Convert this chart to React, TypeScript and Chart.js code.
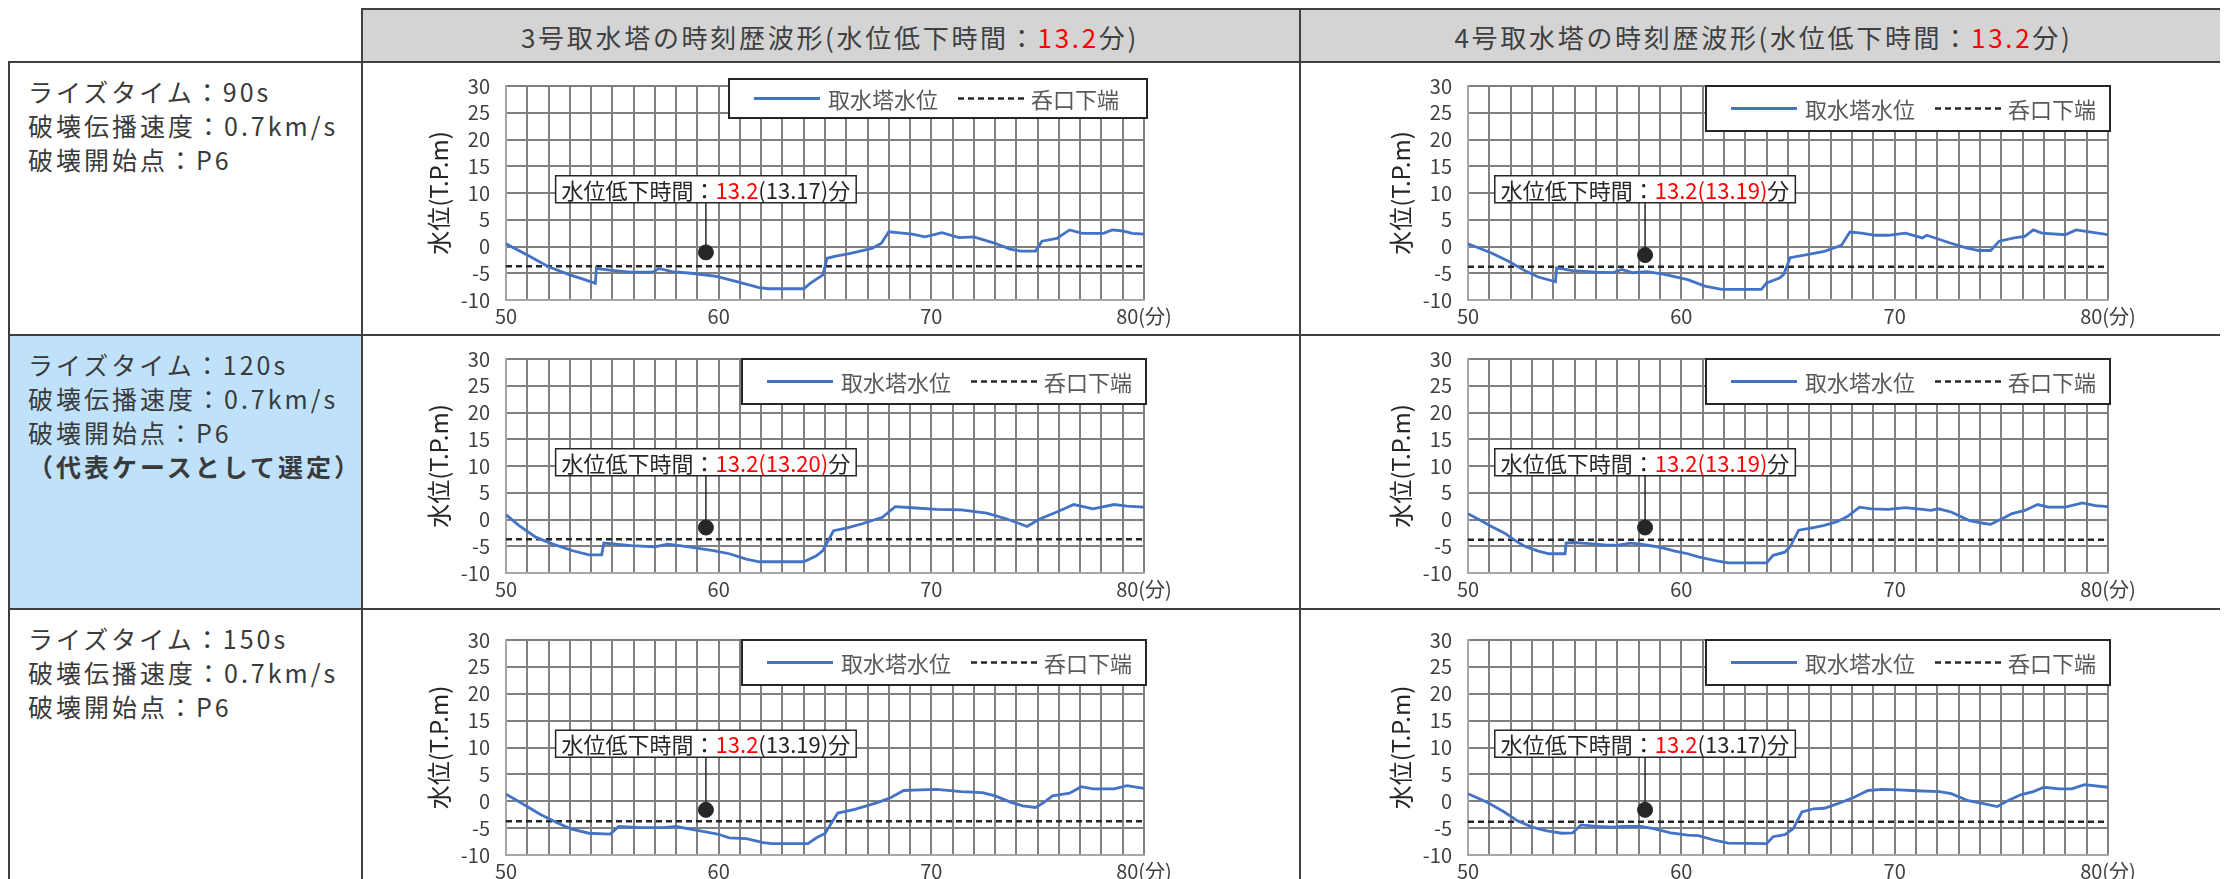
import React, { useEffect, useRef } from 'react';
import { Chart, registerables } from 'chart.js';

Chart.register(...registerables);

const FONT = '"Noto Sans CJK JP", "Noto Sans", sans-serif';
Chart.defaults.font.family = FONT;

// ---- axes ----
const xMin = 50;
const xMax = 80;
const yMin = -10;
const yMax = 30;
const xLabelValues = [50, 60, 70, 80];
const xUnitLabel = '(分)';
const yTitle = '水位(T.P.m)';
const seriesName = '取水塔水位';
const intakeName = '呑口下端';

// ---- data: tower 3 / rise time 90s ----
const t3r90Min = [50, 51.0, 52.0, 53.0, 53.7, 54.2, 54.25, 54.4, 55.1, 55.85, 56.9, 57.2, 57.8, 58.7, 59.9, 60.9, 61.9, 62.35, 64.0, 64.3, 64.9, 65.1, 65.4, 66.2, 67.2, 67.65, 68.0, 68.4, 69.1, 69.7, 70.5, 71.3, 72.0, 73.0, 73.7, 74.2, 74.9, 75.2, 75.9, 76.5, 77.1, 78.1, 78.5, 79.0, 79.45, 80];
const t3r90Lvl = [0.5, -1.6, -3.8, -5.3, -6.2, -6.9, -4.0, -4.2, -4.5, -4.8, -4.8, -4.1, -4.7, -5.0, -5.6, -6.6, -7.7, -7.9, -7.9, -6.9, -5.3, -2.2, -1.9, -1.3, -0.35, 0.6, 2.75, 2.6, 2.3, 1.8, 2.6, 1.65, 1.8, 0.6, -0.5, -0.85, -0.85, 1.0, 1.5, 3.1, 2.45, 2.45, 3.1, 2.9, 2.45, 2.3];

// ---- data: tower 4 / rise time 90s ----
const t4r90Min = [50, 51.1, 51.9, 52.7, 53.3, 54.1, 54.15, 54.9, 56.0, 56.8, 57.2, 57.7, 58.4, 59.2, 60.3, 61.1, 61.9, 63.75, 64.0, 64.6, 64.8, 65.1, 65.9, 66.7, 67.5, 67.9, 68.45, 69.1, 69.7, 70.5, 71.3, 71.5, 72.6, 73.4, 73.95, 74.5, 74.9, 75.6, 76.1, 76.5, 76.9, 78.0, 78.5, 79.2, 80];
const t4r90Lvl = [0.5, -1.2, -2.75, -4.6, -5.7, -6.6, -4.0, -4.5, -4.8, -4.9, -4.3, -4.9, -4.7, -5.2, -6.2, -7.4, -8.0, -8.0, -6.8, -5.9, -5.2, -2.1, -1.5, -0.9, 0.2, 2.7, 2.5, 2.1, 2.1, 2.5, 1.6, 2.1, 0.65, -0.3, -0.75, -0.75, 1.0, 1.6, 1.9, 3.1, 2.5, 2.2, 3.1, 2.7, 2.2];

// ---- data: tower 3 / rise time 120s ----
const t3r120Min = [50, 50.6, 51.4, 52.2, 53.1, 53.9, 54.5, 54.6, 55.9, 57.0, 57.6, 58.6, 59.75, 60.5, 61.3, 61.9, 64.0, 64.6, 64.9, 65.4, 66.0, 66.75, 67.7, 68.3, 69.1, 70.25, 71.4, 72.6, 73.55, 74.1, 74.5, 75.1, 75.9, 76.7, 77.6, 78.6, 79.2, 80];
const t3r120Lvl = [0.9, -1.1, -3.3, -4.6, -5.8, -6.6, -6.6, -4.4, -4.9, -5.1, -4.6, -5.1, -5.8, -6.4, -7.4, -7.9, -7.9, -6.8, -5.8, -2.1, -1.6, -0.8, 0.4, 2.4, 2.2, 1.9, 1.8, 1.2, 0.1, -0.7, -1.3, 0.1, 1.4, 2.8, 2.0, 2.8, 2.5, 2.3];

// ---- data: tower 4 / rise time 120s ----
const t4r120Min = [50, 50.6, 51.1, 51.7, 52.2, 52.7, 53.3, 53.8, 54.55, 54.6, 54.9, 55.7, 56.5, 57.05, 57.6, 58.1, 58.7, 59.2, 59.7, 60.3, 60.8, 61.6, 62.2, 64.0, 64.3, 64.85, 65.1, 65.5, 66.2, 66.7, 67.3, 67.8, 68.35, 68.9, 69.7, 70.5, 71.3, 71.7, 72.05, 72.65, 73.5, 74.15, 74.5, 75.1, 75.5, 76.1, 76.7, 77.2, 78.0, 78.8, 79.4, 80];
const t4r120Lvl = [1.1, -0.2, -1.3, -2.5, -3.9, -5.1, -5.9, -6.4, -6.4, -4.4, -4.3, -4.5, -4.8, -4.8, -4.4, -4.6, -5.0, -5.4, -5.9, -6.4, -7.0, -7.7, -8.1, -8.1, -6.7, -6.1, -5.1, -2.0, -1.5, -1.1, -0.4, 0.6, 2.3, 2.0, 1.9, 2.2, 1.9, 1.7, 2.0, 1.4, -0.2, -0.7, -0.9, 0.3, 1.1, 1.7, 2.8, 2.3, 2.3, 3.1, 2.6, 2.4];

// ---- data: tower 3 / rise time 150s ----
const t3r150Min = [50, 50.8, 51.6, 52.4, 53.1, 53.9, 54.9, 55.3, 56.3, 57.4, 58.0, 59.0, 59.95, 60.5, 61.3, 62.1, 62.5, 64.2, 64.6, 65.0, 65.6, 66.4, 67.5, 68.1, 68.7, 69.5, 70.25, 71.4, 72.4, 73.0, 73.75, 74.3, 74.9, 75.3, 75.7, 76.5, 77.05, 77.6, 78.6, 79.2, 80];
const t3r150Lvl = [1.3, -0.5, -2.4, -4.0, -5.2, -5.95, -6.1, -4.7, -4.9, -4.9, -4.7, -5.4, -6.1, -6.8, -6.95, -7.7, -7.9, -7.9, -6.8, -6.0, -2.2, -1.5, -0.2, 0.7, 2.0, 2.1, 2.2, 1.8, 1.6, 1.0, -0.2, -0.85, -1.15, -0.2, 1.0, 1.5, 2.7, 2.3, 2.3, 2.9, 2.4];

// ---- data: tower 4 / rise time 150s ----
const t4r150Min = [50, 50.9, 51.7, 52.3, 53.0, 53.7, 54.4, 54.9, 55.3, 56.0, 56.8, 57.3, 58.1, 58.7, 59.5, 60.3, 60.8, 61.6, 62.2, 64.0, 64.3, 64.85, 65.25, 65.65, 66.2, 66.7, 67.3, 68.1, 68.75, 69.4, 70.2, 71.0, 72.1, 72.65, 73.45, 74.0, 74.8, 75.3, 75.9, 76.5, 77.0, 77.7, 78.3, 78.9, 80];
const t4r150Lvl = [1.4, -0.2, -2.0, -3.6, -4.8, -5.5, -5.95, -5.9, -4.4, -4.7, -4.8, -4.7, -4.7, -5.1, -5.9, -6.3, -6.4, -7.3, -7.8, -7.9, -6.6, -6.2, -5.1, -2.0, -1.4, -1.3, -0.5, 0.75, 2.0, 2.2, 2.1, 1.95, 1.8, 1.4, 0.1, -0.3, -1.0, 0.1, 1.2, 1.8, 2.6, 2.3, 2.3, 3.1, 2.6];

// intake bottom level (呑口下端) per tower
const intakeBottomT3 = -3.7;
const intakeBottomT4 = -3.8;

// marker of drop-time annotation
const markerT3 = [59.4, 59.4, 59.4];
const markerT4 = [58.3, 58.3, 58.3];
const markerLvl = [-1.1, -1.6, -1.5, -1.5, -1.6, -1.6];
const labelLevel = 10.7;

// drop-time values
const dropRounded = ['13.2', '13.2', '13.2', '13.2', '13.2', '13.2'];
const dropExact = ['(13.17)', '(13.19)', '(13.20)', '(13.19)', '(13.19)', '(13.17)'];
const dropExactRed = [false, true, true, true, false, false];

// header & row texts
const headers = ['3号取水塔の時刻歴波形(水位低下時間：', '4号取水塔の時刻歴波形(水位低下時間：'];
const headerDrop = ['13.2', '13.2'];
const riseTimes = ['90s', '120s', '150s'];
const speed = '0.7km/s';
const startPoint = 'P6';

const BLUE = '#4472C4';
const DARK = '#262626';
const RED = '#FF0000';
const BORDER = '#404040';

type Cfg = {
  plot: { l: number; t: number; r: number; b: number };
  minutes: number[];
  levels: number[];
  intake: number;
  mx: number;
  my: number;
  rounded: string;
  exact: string;
  exactRed: boolean;
  legend: { dx: number; dy: number; w: number; h: number };
};

const AXIS_W = 90;
const PAD_TOP = 30;
const PAD_RIGHT = 45;
const XAXIS_H = 40;

function ChartPanel({ cfg }: { cfg: Cfg }) {
  const ref = useRef<HTMLCanvasElement | null>(null);
  const w = cfg.plot.r - cfg.plot.l + AXIS_W + PAD_RIGHT;
  const h = cfg.plot.b - cfg.plot.t + PAD_TOP + XAXIS_H;

  useEffect(() => {
    if (!ref.current) return;
    const overlay = {
      id: 'overlay',
      beforeDatasetsDraw(chart: any) {
        const { ctx, scales } = chart;
        const px = scales.x.getPixelForValue(cfg.mx);
        const py = scales.y.getPixelForValue(cfg.my);
        const cy = scales.y.getPixelForValue(labelLevel);
        ctx.save();
        ctx.strokeStyle = DARK;
        ctx.lineWidth = 1.5;
        ctx.beginPath();
        ctx.moveTo(px, cy + 13);
        ctx.lineTo(px, py);
        ctx.stroke();
        ctx.restore();
      },
      afterDatasetsDraw(chart: any) {
        const { ctx, scales, chartArea: a } = chart;
        const px = scales.x.getPixelForValue(cfg.mx);
        const cy = scales.y.getPixelForValue(labelLevel);
        ctx.save();
        // annotation box
        ctx.font = `22px ${FONT}`;
        ctx.textBaseline = 'middle';
        const parts = [
          { t: '水位低下時間：', c: DARK },
          { t: cfg.rounded, c: RED },
          { t: cfg.exact, c: cfg.exactRed ? RED : DARK },
          { t: '分', c: DARK },
        ];
        const tw = parts.reduce((s, p) => s + ctx.measureText(p.t).width, 0);
        const bw = tw + 12;
        const bh = 27;
        const bx = px - bw / 2;
        const by = cy - bh / 2;
        ctx.fillStyle = '#ffffff';
        ctx.fillRect(bx, by, bw, bh);
        ctx.strokeStyle = DARK;
        ctx.lineWidth = 1.5;
        ctx.strokeRect(bx, by, bw, bh);
        let tx = bx + 6;
        for (const p of parts) {
          ctx.fillStyle = p.c;
          ctx.fillText(p.t, tx, cy + 1);
          tx += ctx.measureText(p.t).width;
        }
        // legend box
        const L = cfg.legend;
        const lx = a.right + L.dx - L.w;
        const ly = a.top + L.dy;
        ctx.fillStyle = '#ffffff';
        ctx.fillRect(lx, ly, L.w, L.h);
        ctx.strokeStyle = DARK;
        ctx.lineWidth = 2;
        ctx.strokeRect(lx, ly, L.w, L.h);
        const my = ly + L.h / 2;
        ctx.font = `22px ${FONT}`;
        ctx.textBaseline = 'middle';
        let x0 = lx + 25;
        ctx.strokeStyle = BLUE;
        ctx.lineWidth = 2.8;
        ctx.beginPath();
        ctx.moveTo(x0, my);
        ctx.lineTo(x0 + 66, my);
        ctx.stroke();
        x0 += 74;
        ctx.fillStyle = '#595959';
        ctx.fillText(seriesName, x0, my + 1);
        x0 += ctx.measureText(seriesName).width + 20;
        ctx.strokeStyle = DARK;
        ctx.lineWidth = 2.5;
        ctx.setLineDash([6, 4]);
        ctx.beginPath();
        ctx.moveTo(x0, my);
        ctx.lineTo(x0 + 68, my);
        ctx.stroke();
        ctx.setLineDash([]);
        x0 += 73;
        ctx.fillText(intakeName, x0, my + 1);
        ctx.restore();
      },
    };

    const line = cfg.minutes.map((m, i) => ({ x: m, y: cfg.levels[i] }));
    const chart = new Chart(ref.current, {
      type: 'line',
      data: {
        datasets: [
          {
            label: intakeName,
            data: [
              { x: xMin, y: cfg.intake },
              { x: xMax, y: cfg.intake },
            ],
            borderColor: DARK,
            borderWidth: 2.5,
            borderDash: [6, 4],
            pointRadius: 0,
            order: 3,
          },
          {
            label: seriesName,
            data: line,
            borderColor: BLUE,
            borderWidth: 2.8,
            pointRadius: 0,
            tension: 0,
            order: 2,
          },
          {
            label: 'marker',
            data: [{ x: cfg.mx, y: cfg.my }],
            showLine: false,
            pointRadius: 7.5,
            pointBackgroundColor: DARK,
            pointBorderColor: DARK,
            order: 1,
          },
        ],
      },
      options: {
        animation: false,
        responsive: false,
        devicePixelRatio: 1,
        layout: { padding: { left: 0, top: PAD_TOP, right: PAD_RIGHT, bottom: 0 } },
        plugins: { legend: { display: false }, tooltip: { enabled: false } },
        scales: {
          x: {
            type: 'linear',
            min: xMin,
            max: xMax,
            afterFit: (s: any) => {
              s.height = XAXIS_H;
            },
            ticks: {
              stepSize: 1,
              maxTicksLimit: 100,
              autoSkip: false,
              maxRotation: 0,
              padding: 4,
              color: '#404040',
              font: { size: 20 },
              callback: (v: any) => {
                const n = Math.round(Number(v));
                if (!xLabelValues.includes(n)) return '';
                return n === xMax ? `${n}${xUnitLabel}` : String(n);
              },
            },
            grid: { color: '#808080', lineWidth: 2, drawTicks: false },
            border: { color: '#a6a6a6', width: 2 },
          },
          y: {
            min: yMin,
            max: yMax,
            afterFit: (s: any) => {
              s.width = AXIS_W;
            },
            ticks: {
              stepSize: 5,
              maxTicksLimit: 100,
              autoSkip: false,
              padding: 16,
              color: '#404040',
              font: { size: 20 },
            },
            title: {
              display: true,
              text: yTitle,
              color: DARK,
              font: { size: 24 },
              padding: { top: 8, bottom: 0 },
            },
            grid: { color: '#808080', lineWidth: 2, drawTicks: false },
            border: { color: '#a6a6a6', width: 2 },
          },
        },
      },
      plugins: [overlay],
    } as any);
    return () => chart.destroy();
  }, [cfg]);

  return (
    <canvas
      ref={ref}
      width={w}
      height={h}
      style={{
        position: 'absolute',
        left: cfg.plot.l - AXIS_W - 8,
        top: cfg.plot.t - PAD_TOP - 8,
        width: w,
        height: h,
      }}
    />
  );
}

const col2 = { l: 506, r: 1144 };
const col3 = { l: 1468, r: 2108 };
const rowsY = [
  { t: 86, b: 300 },
  { t: 359, b: 573 },
  { t: 640, b: 855 },
];
const seriesMin = [t3r90Min, t4r90Min, t3r120Min, t4r120Min, t3r150Min, t4r150Min];
const seriesLvl = [t3r90Lvl, t4r90Lvl, t3r120Lvl, t4r120Lvl, t3r150Lvl, t4r150Lvl];

const cfgs: Cfg[] = [0, 1, 2, 3, 4, 5].map((i) => {
  const row = Math.floor(i / 2);
  const col = i % 2;
  const c = col === 0 ? col2 : col3;
  return {
    plot: { l: c.l, r: c.r, t: rowsY[row].t, b: rowsY[row].b },
    minutes: seriesMin[i],
    levels: seriesLvl[i],
    intake: col === 0 ? intakeBottomT3 : intakeBottomT4,
    mx: col === 0 ? markerT3[row] : markerT4[row],
    my: markerLvl[i],
    rounded: dropRounded[i],
    exact: dropExact[i],
    exactRed: dropExactRed[i],
    legend: i === 0 ? { dx: 3, dy: -7, w: 418, h: 39 } : { dx: 2, dy: 0, w: 404, h: 45 },
  };
});

function HLine({ y, x }: { y: number; x: number }) {
  return <div style={{ position: 'absolute', left: x - 8, top: y - 8, width: 2228 - x, height: 2, background: BORDER }} />;
}
function VLine({ x, y }: { x: number; y: number }) {
  return <div style={{ position: 'absolute', left: x - 8, top: y - 8, width: 2, height: 879 - y, background: BORDER }} />;
}

export default function App() {
  useEffect(() => {
    document.documentElement.style.overflow = 'hidden';
    document.body.style.overflow = 'hidden';
  }, []);

  const rowTops = [61, 334, 608];
  const textStyle: React.CSSProperties = {
    position: 'absolute',
    left: 20,
    fontSize: 25,
    lineHeight: '34px',
    color: '#3a3a3a',
    whiteSpace: 'nowrap',
    letterSpacing: '3px',
  };

  return (
    <div
      style={{
        position: 'relative',
        width: 2220,
        height: 871,
        overflow: 'hidden',
        fontFamily: FONT,
        background: '#ffffff',
      }}
    >
      {/* header background */}
      <div style={{ position: 'absolute', left: 361 - 8, top: 0, width: 2228 - 361, height: 55, background: '#d4d4d4' }} />
      {/* highlighted row */}
      <div style={{ position: 'absolute', left: 0, top: 334 - 8, width: 361 - 8, height: 608 - 334, background: '#BFE2FA' }} />

      {/* header texts */}
      {[
        { l: 361, r: 1299 },
        { l: 1299, r: 2228 },
      ].map((c, i) => (
        <div
          key={i}
          style={{
            position: 'absolute',
            left: c.l - 8,
            width: c.r - c.l,
            top: 2,
            height: 53,
            lineHeight: '53px',
            textAlign: 'center',
            fontSize: 26,
            color: '#404040',
            letterSpacing: '2.7px',
            whiteSpace: 'nowrap',
          }}
        >
          {headers[i]}
          <span style={{ color: RED }}>{headerDrop[i]}</span>
          分)
        </div>
      ))}

      {/* row texts */}
      {riseTimes.map((rt, r) => (
        <div key={r} style={{ ...textStyle, top: rowTops[r] - 8 + 13 }}>
          <div>ライズタイム：{rt}</div>
          <div>破壊伝播速度：{speed}</div>
          <div>破壊開始点：{startPoint}</div>
          {r === 1 && <div style={{ fontWeight: 700 }}>（代表ケースとして選定）</div>}
        </div>
      ))}

      {/* table lines */}
      <HLine x={361} y={8} />
      <HLine x={8} y={61} />
      <HLine x={8} y={334} />
      <HLine x={8} y={608} />
      <VLine x={8} y={61} />
      <VLine x={361} y={8} />
      <VLine x={1299} y={8} />

      {cfgs.map((c, i) => (
        <ChartPanel key={i} cfg={c} />
      ))}
    </div>
  );
}
